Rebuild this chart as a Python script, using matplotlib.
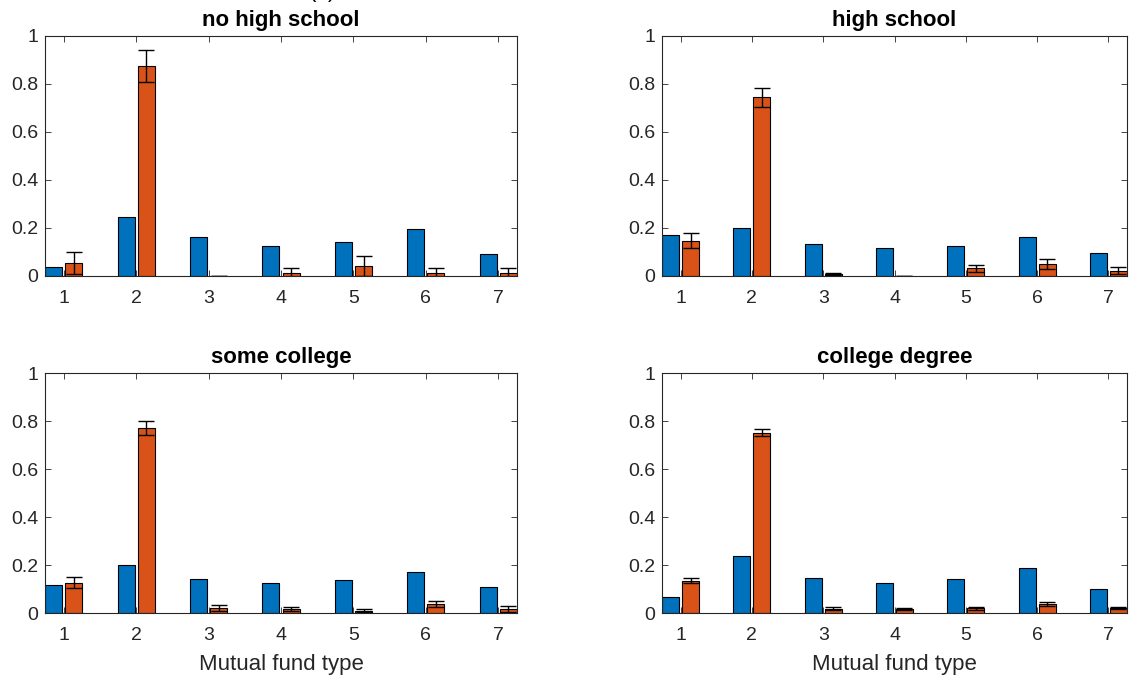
import matplotlib.pyplot as plt
import numpy as np

plt.rcParams['font.family'] = ['Liberation Sans', 'DejaVu Sans']

fund_types = [1, 2, 3, 4, 5, 6, 7]
titles = ['no high school', 'high school', 'some college', 'college degree']

# blue series (no error bars)
blue_nohs = [0.039, 0.244, 0.161, 0.125, 0.142, 0.196, 0.090]
blue_hs = [0.169, 0.199, 0.132, 0.115, 0.124, 0.164, 0.097]
blue_sc = [0.116, 0.201, 0.143, 0.126, 0.137, 0.172, 0.108]
blue_cd = [0.065, 0.238, 0.145, 0.125, 0.143, 0.187, 0.100]

# orange series and their error half-widths
orange_nohs = [0.053, 0.875, 0.0, 0.011, 0.042, 0.011, 0.011]
err_nohs = [0.046, 0.067, 0.0, 0.021, 0.041, 0.021, 0.021]
orange_hs = [0.147, 0.744, 0.008, 0.0, 0.032, 0.051, 0.022]
err_hs = [0.031, 0.039, 0.004, 0.0, 0.015, 0.020, 0.014]
orange_sc = [0.127, 0.771, 0.021, 0.017, 0.010, 0.037, 0.017]
err_sc = [0.021, 0.028, 0.011, 0.008, 0.007, 0.011, 0.011]
orange_cd = [0.134, 0.751, 0.018, 0.017, 0.019, 0.037, 0.021]
err_cd = [0.011, 0.015, 0.006, 0.005, 0.006, 0.007, 0.006]

blues = [blue_nohs, blue_hs, blue_sc, blue_cd]
oranges = [orange_nohs, orange_hs, orange_sc, orange_cd]
errs = [err_nohs, err_hs, err_sc, err_cd]

W, H = 1135, 681
fig = plt.figure(figsize=(W / 100, H / 100), dpi=100)

# axes boxes in pixels: left, top, right, bottom
boxes = [(45, 36, 517, 276), (662, 36, 1127, 276),
         (45, 373, 517, 613), (662, 373, 1127, 613)]

x = np.array(fund_types)
bw = 0.235
off = 0.14
gray = '#262626'

for i, (l, t, r, b) in enumerate(boxes):
    ax = fig.add_axes([l / W, 1 - b / H, (r - l) / W, (b - t) / H])
    ax.bar(x - off, blues[i], bw, color='#0072BD', edgecolor='black', linewidth=0.8)
    ax.bar(x + off, oranges[i], bw, color='#D95319', edgecolor='black', linewidth=0.8)
    ax.errorbar(x + off, oranges[i], yerr=errs[i], fmt='none', ecolor='black',
                elinewidth=1.0, capsize=6, capthick=1.0)
    ax.set_xlim(0.74, 7.26)
    ax.set_ylim(0, 1)
    ax.set_xticks(fund_types)
    ax.set_yticks([0, 0.2, 0.4, 0.6, 0.8, 1])
    ax.set_yticklabels(['0', '0.2', '0.4', '0.6', '0.8', '1'])
    ax.tick_params(direction='in', top=True, right=True, labelsize=14,
                   colors=gray, length=4, width=0.6)
    ax.tick_params(axis='x', pad=10)
    ax.tick_params(axis='y', pad=5)
    for s in ax.spines.values():
        s.set_color(gray)
        s.set_linewidth(0.8)
    ax.set_title(titles[i], fontsize=16, fontweight='bold', pad=7)
    if i >= 2:
        ax.set_xlabel('Mutual fund type', fontsize=16, color=gray, labelpad=7)

fig.text(0.284, 1.012, '(a)', ha='center', va='center', fontsize=16)

fig.savefig('out.png', dpi=100)
